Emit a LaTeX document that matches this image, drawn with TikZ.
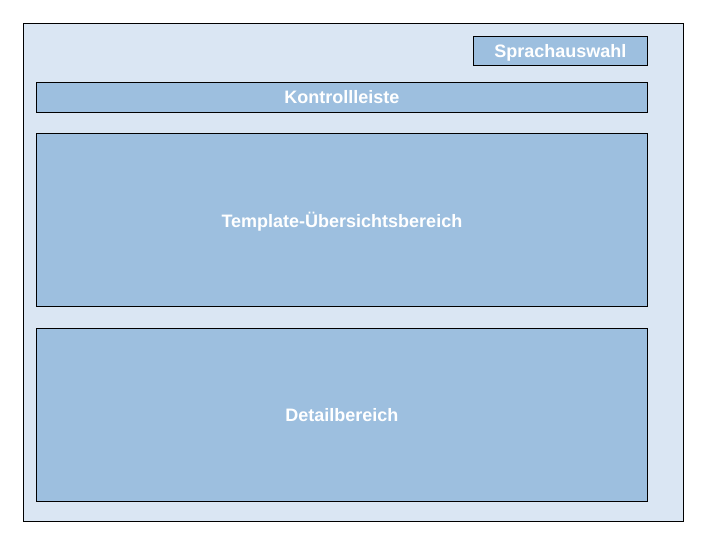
\documentclass[tikz,border=0pt]{standalone}
\usepackage{fontspec}
\setmainfont{Liberation Sans}
\usepackage{tikz}
\usetikzlibrary{positioning}
\definecolor{paneBg}{HTML}{DAE6F3}
\definecolor{paneBox}{HTML}{9DBFDF}

\begin{document}
\begin{tikzpicture}[
  x=1pt,y=-1pt,
  every node/.style={font=\fontsize{18}{20}\selectfont\bfseries,text=white},
  frame/.style={draw=black,line width=0.8pt,fill=paneBg},
  area/.style={draw=black,line width=0.8pt,fill=paneBox,inner sep=0pt,text depth=0pt,anchor=north west}
]
  \useasboundingbox (0,0) rectangle (720,540);

  % Outer window
  \draw[frame] (23,23) rectangle (683,521);

  % Areas (width x height given as minimum sizes)
  \node[area,minimum width=174pt,minimum height=29pt] (lang)   at (473,36)  {Sprachauswahl};
  \node[area,minimum width=611pt,minimum height=30pt] (ctrl)   at (36,82)   {Kontrollleiste};
  \node[area,minimum width=611pt,minimum height=173pt] (tmpl)  at (36,133)  {Template-Übersichtsbereich};
  \node[area,minimum width=611pt,minimum height=173pt] (detail) at (36,328) {Detailbereich};
\end{tikzpicture}
\end{document}
